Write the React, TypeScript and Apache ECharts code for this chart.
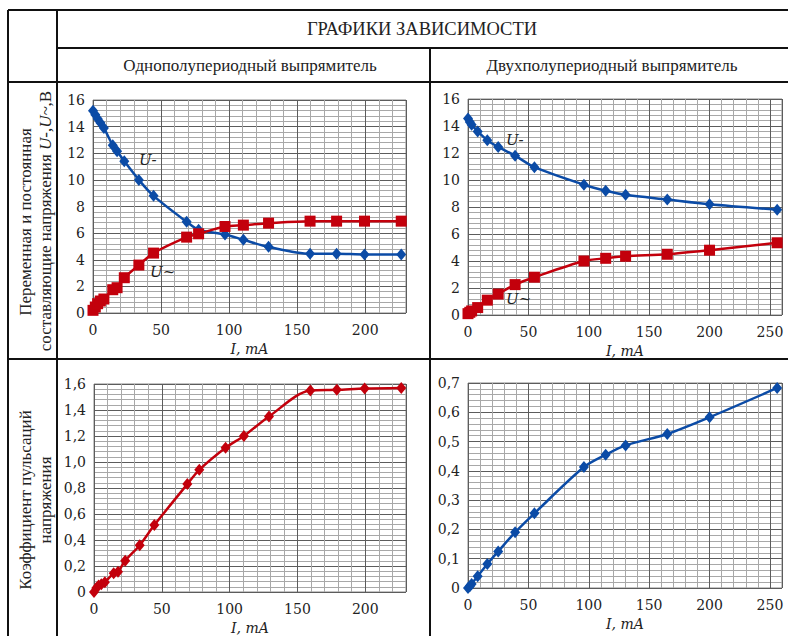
import React, { useEffect, useRef } from "react";
import * as echarts from "echarts";

const leftI = [0, 1.7, 3.4, 5.4, 8, 14.5, 17.7, 23, 33.7, 44.5, 68.8, 77.6, 97, 110.5, 129, 159.5, 179, 199.5, 226.5];
const leftUdc = [15.2, 14.9, 14.6, 14.3, 13.9, 12.6, 12.15, 11.4, 10.0, 8.8, 6.85, 6.25, 5.9, 5.5, 4.97, 4.45, 4.45, 4.4, 4.4];
const leftUac = [0.2, 0.45, 0.7, 0.9, 1.05, 1.75, 1.9, 2.65, 3.6, 4.5, 5.7, 5.95, 6.5, 6.6, 6.75, 6.9, 6.9, 6.9, 6.9];
const leftK = [0, 0.03, 0.05, 0.06, 0.075, 0.145, 0.155, 0.24, 0.36, 0.515, 0.83, 0.94, 1.11, 1.2, 1.35, 1.55, 1.555, 1.565, 1.57];

const rightI = [0, 1.5, 3, 8, 16, 25, 39, 55, 96, 114, 130.5, 165, 200, 256];
const rightUdc = [14.55, 14.3, 14.1, 13.6, 12.95, 12.45, 11.8, 10.95, 9.65, 9.2, 8.9, 8.55, 8.2, 7.8];
const rightUac = [0.1, 0.2, 0.3, 0.55, 1.1, 1.55, 2.25, 2.8, 4.0, 4.2, 4.35, 4.5, 4.8, 5.35];
const rightK = [0, 0.006, 0.014, 0.04, 0.082, 0.125, 0.19, 0.255, 0.413, 0.455, 0.487, 0.526, 0.583, 0.683];

const headerTitle = "ГРАФИКИ ЗАВИСИМОСТИ";
const colTitles = ["Однополупериодный выпрямитель", "Двухполупериодный выпрямитель"];
const rowTitles1 = ["Переменная и постоянная", "составляющие напряжения ", "U-,U~", ",В"];
const rowTitles2 = ["Коэффициент пульсаций", "напряжения"];
const xName = "I, mA";

const BLUE = "#0b4ba6";
const RED = "#c3000c";
const SERIF = "DejaVu Serif";
const HSERIF = "Liberation Serif";

const zip = (xs: number[], ys: number[]) => xs.map((x, i) => [x, ys[i]]);

export default function App() {
  const ref = useRef<HTMLDivElement>(null);
  useEffect(() => {
    const chart = echarts.init(ref.current!, null, { renderer: "svg" });

    const grids = [
      { left: 93, top: 100, width: 313, height: 213 },
      { left: 468, top: 99, width: 314, height: 216 },
      { left: 94, top: 384, width: 312, height: 208 },
      { left: 468, top: 383, width: 314, height: 205 },
    ];
    const xMax = [230, 260, 230, 260];
    const yCfg = [
      { max: 16, major: 2, minor: 0.4, fmt: (v: number) => String(v) },
      { max: 16, major: 2, minor: 0.4, fmt: (v: number) => String(v) },
      { max: 1.6, major: 0.2, minor: 0.04, fmt: (v: number) => (v === 0 ? "0" : v.toFixed(1).replace(".", ",")) },
      { max: 0.7, major: 0.1, minor: 0.02, fmt: (v: number) => (v === 0 ? "0" : v.toFixed(1).replace(".", ",")) },
    ];

    const xAxes: any[] = [];
    const yAxes: any[] = [];
    grids.forEach((_, g) => {
      xAxes.push({
        type: "value", gridIndex: g, position: "bottom", min: 0, max: xMax[g], interval: 10,
        axisLine: { show: false }, axisTick: { show: false }, axisLabel: { show: false },
        splitLine: { show: true, lineStyle: { color: "#a8a8a8", width: 1 } },
      });
      yAxes.push({
        type: "value", gridIndex: g, position: "left", min: 0, max: yCfg[g].max, interval: yCfg[g].minor,
        axisLine: { show: false }, axisTick: { show: false }, axisLabel: { show: false },
        splitLine: { show: true, lineStyle: { color: "#a8a8a8", width: 1 } },
      });
      xAxes.push({
        type: "value", gridIndex: g, position: "bottom", min: 0, max: xMax[g], interval: 50,
        axisLine: { show: false }, axisTick: { show: false },
        axisLabel: {
          color: "#222", fontFamily: SERIF, fontSize: 14, margin: 10,
          formatter: (v: number) => (v % 50 === 0 ? String(v) : ""),
        },
        splitLine: { show: true, lineStyle: { color: "#5c5c5c", width: 1 } },
        name: xName, nameLocation: "middle", nameGap: 29,
        nameTextStyle: { color: "#222", fontFamily: SERIF, fontStyle: "italic", fontSize: 14 },
      });
      yAxes.push({
        type: "value", gridIndex: g, position: "left", min: 0, max: yCfg[g].max, interval: yCfg[g].major,
        axisLine: { show: false }, axisTick: { show: false },
        axisLabel: { color: "#222", fontFamily: SERIF, fontSize: 14, margin: 8, formatter: yCfg[g].fmt },
        splitLine: { show: true, lineStyle: { color: "#5c5c5c", width: 1 } },
      });
    });

    const mk = (g: number, data: number[][], color: string, symbol: string, size: number | number[]) => ({
      type: "line", xAxisIndex: g * 2 + 1, yAxisIndex: g * 2 + 1, data,
      smooth: 0.3, symbol, symbolSize: size, showSymbol: true,
      lineStyle: { color, width: 2.5 }, itemStyle: { color },
      z: 5,
    });

    const series = [
      mk(0, zip(leftI, leftUdc), BLUE, "diamond", [10, 12]),
      mk(0, zip(leftI, leftUac), RED, "rect", 11),
      mk(1, zip(rightI, rightUdc), BLUE, "diamond", [10, 12]),
      mk(1, zip(rightI, rightUac), RED, "rect", 11),
      mk(2, zip(leftI, leftK), RED, "diamond", [10, 12]),
      mk(3, zip(rightI, rightK), BLUE, "diamond", [10, 12]),
    ];

    const ln = (x1: number, y1: number, x2: number, y2: number) => ({
      type: "line", shape: { x1, y1, x2, y2 }, style: { stroke: "#111", lineWidth: 2 }, silent: true,
    });
    const txt = (x: number, y: number, text: string, opts: any = {}) => ({
      type: "text", x, y, silent: true,
      style: {
        text, fill: "#222", fontSize: opts.size || 15, fontFamily: opts.family || HSERIF,
        textAlign: "center", textVerticalAlign: "middle",
      },
      rotation: opts.rotation || 0,
    });
    const ital = (x: number, y: number, text: string) => ({
      type: "text", x, y, silent: true, z: 10,
      style: { text, fill: "#222", fontSize: 15, fontStyle: "italic", fontFamily: SERIF, textAlign: "left", textVerticalAlign: "middle" },
    });

    const graphic = [
      ln(8, 10, 788, 10),
      ln(57, 48, 788, 48),
      ln(8, 82, 788, 82),
      ln(8, 359, 788, 359),
      ln(8, 10, 8, 636),
      ln(57, 10, 57, 636),
      ln(430, 48, 430, 636),
      txt(422, 29, headerTitle, { size: 18.5 }),
      txt(250, 65, colTitles[0], { size: 17 }),
      txt(612, 65, colTitles[1], { size: 17 }),
      txt(25, 222, rowTitles1[0], { size: 17, rotation: Math.PI / 2 }),
      {
        type: "text", x: 45, y: 221, silent: true, rotation: Math.PI / 2,
        style: {
          text: `{n|${rowTitles1[1]}}{i|${rowTitles1[2]}}{n|${rowTitles1[3]}}`,
          textAlign: "center", textVerticalAlign: "middle",
          rich: {
            n: { fontFamily: HSERIF, fontSize: 17, fill: "#222" },
            i: { fontFamily: HSERIF, fontSize: 17, fontStyle: "italic", fill: "#222" },
          },
        },
      },
      txt(25, 500, rowTitles2[0], { size: 17, rotation: Math.PI / 2 }),
      txt(45, 500, rowTitles2[1], { size: 17, rotation: Math.PI / 2 }),
      ital(139, 160, "U-"),
      ital(150, 272, "U~"),
      ital(506, 140, "U-"),
      ital(506, 299, "U~"),
    ];

    chart.setOption({
      animation: false,
      backgroundColor: "#fff",
      grid: grids.map((g) => ({ ...g, show: true, borderColor: "#888", borderWidth: 1, backgroundColor: "transparent" })),
      xAxis: xAxes,
      yAxis: yAxes,
      series,
      graphic,
    });
    return () => chart.dispose();
  }, []);
  return <div ref={ref} style={{ position: "fixed", left: 0, top: 0, width: 788, height: 636, background: "#fff" }} />;
}
